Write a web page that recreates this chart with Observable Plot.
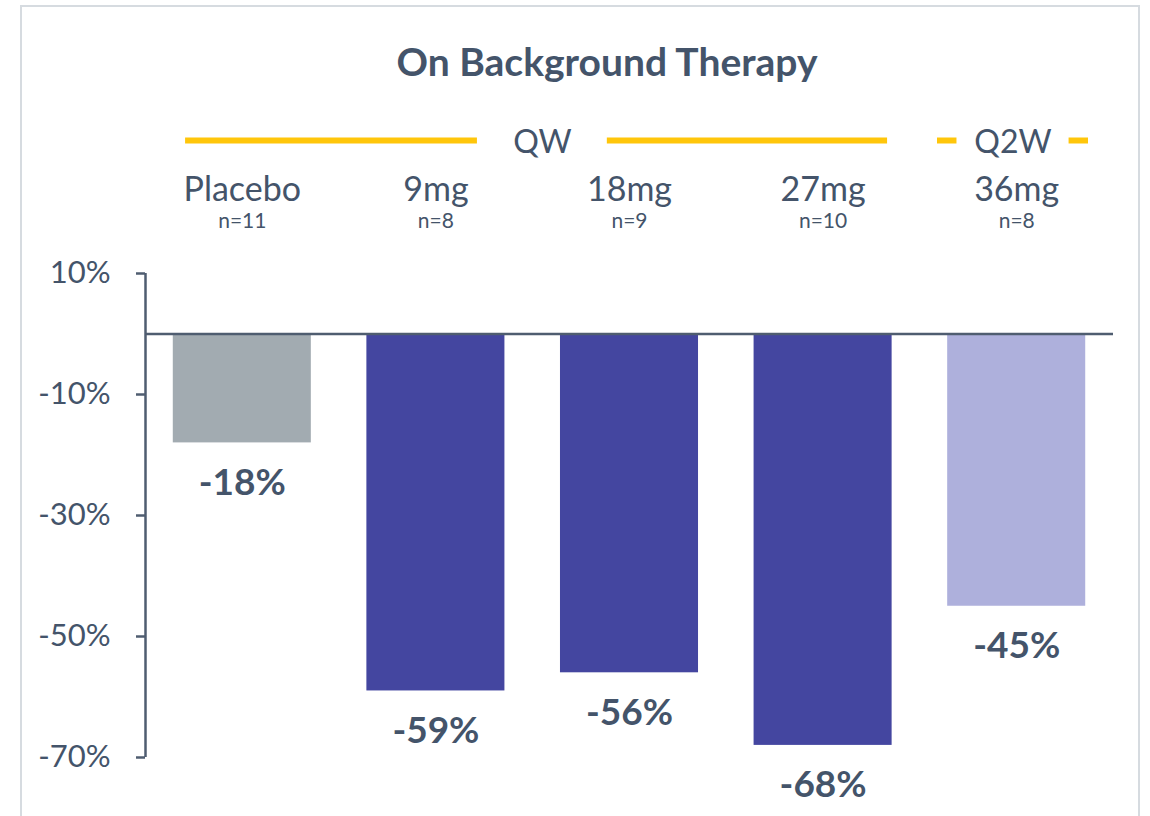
<!DOCTYPE html>
<html>
<head>
<meta charset="utf-8">
<script src="https://cdn.jsdelivr.net/npm/d3@7"></script>
<script src="https://cdn.jsdelivr.net/npm/@observablehq/plot@0.6"></script>
<style>
  html, body { margin: 0; padding: 0; background: #fff; }
  body { width: 1150px; height: 816px; position: relative; overflow: hidden; font-family: Lato, "Open Sans", sans-serif; }
  #frame { position: absolute; left: 20px; top: 5px; width: 1120px; height: 830px; border: 2px solid #d6dbe0; box-sizing: border-box; }
  #title { position: absolute; left: 0; width: 1214px; top: 38px; text-align: center; font-size: 39px; font-weight: 700; color: #44546a; line-height: 46px; }
  #chart { position: absolute; left: 0; top: 100px; }
</style>
</head>
<body>
<div id="frame"></div>
<div id="title">On Background Therapy</div>
<div id="chart"></div>
<script>
// Mean change from baseline by dose arm
const categories = ["Placebo", "9mg", "18mg", "27mg", "36mg"];
const sampleSizes = [11, 8, 9, 10, 8];
const changes = [-18, -59, -56, -68, -45];
const regimens = ["Placebo", "QW", "QW", "QW", "Q2W"];
const yTicks = [10, -10, -30, -50, -70];

// Dosing-frequency headers spanning the arms
const groupLabels = ["QW", "Q2W"];
const groupFirst = ["Placebo", "36mg"];
const groupLast = ["27mg", "36mg"];

const ink = "#44546a";
const axisInk = "#4f5d70";
const gold = "#ffc60b";

const rows = categories.map((c, i) => ({
  category: c, index: i, n: sampleSizes[i], value: changes[i], regimen: regimens[i]
}));

// header line layout: [left inset, right inset, gap width] in band units
const headerLayout = { QW: [0.207, 0.167, 0.671], Q2W: [0.091, 0.129, 0.579] };
const headers = groupLabels.map((label, k) => {
  const [l, r, gap] = headerLayout[label];
  const x1 = categories.indexOf(groupFirst[k]) + l;
  const x2 = categories.indexOf(groupLast[k]) + 1 - r;
  const mid = (x1 + x2) / 2 + (label === "QW" ? 0.03 : 0);
  return { label, x1, x2, mid, gap };
});
const headerSegments = headers.flatMap(h => [
  { x1: h.x1, x2: h.mid - h.gap / 2 },
  { x1: h.mid + h.gap / 2, x2: h.x2 }
]);

const pad = 0.1435;
const yTop = d3.max(yTicks);
const yBottom = d3.min(yTicks);

const chart = Plot.plot({
  width: 1150,
  height: 716,
  marginTop: 173,
  marginBottom: 59,
  marginLeft: 145,
  marginRight: 37,
  style: { fontFamily: "Lato, 'Open Sans', sans-serif", color: ink, background: "transparent", overflow: "visible" },
  x: { type: "linear", domain: [0, categories.length], axis: null },
  y: { domain: [yBottom, yTop], axis: null },
  color: { domain: ["Placebo", "QW", "Q2W"], range: ["#a2abb1", "#4446a0", "#aeb0dc"] },
  marks: [
    Plot.rectY(rows, {
      x1: d => d.index + pad, x2: d => d.index + 1 - pad,
      y1: 0, y2: "value", fill: "regimen"
    }),
    Plot.ruleY([0], { x1: 0, x2: categories.length, stroke: axisInk, strokeWidth: 2.5 }),
    Plot.ruleX([0], { y1: yBottom, y2: yTop, stroke: axisInk, strokeWidth: 2.5 }),
    Plot.axisY({
      ticks: yTicks, tickSize: 9, tickPadding: 26, label: null,
      tickFormat: d => `${d}%`, fontSize: 31, stroke: axisInk, strokeWidth: 2.5, fill: ink
    }),
    Plot.text(rows, {
      x: d => d.index + 0.5, y: "value", dy: 40, text: d => `${d.value}%`,
      fontSize: 37, fontWeight: 700, fill: ink, lineAnchor: "middle"
    }),
    // category and sample-size labels above the plot
    Plot.text(rows, {
      x: d => d.index + 0.5, frameAnchor: "top", dy: -83, text: "category",
      fontSize: 34, fill: ink, lineAnchor: "middle"
    }),
    Plot.text(rows, {
      x: d => d.index + 0.5, frameAnchor: "top", dy: -52, text: d => `n=${d.n}`,
      fontSize: 21, fill: ink, lineAnchor: "middle"
    }),
    // dosing-frequency headers
    Plot.ruleY(headerSegments, {
      x1: "x1", x2: "x2", y: () => yTop, dy: -133, stroke: gold, strokeWidth: 6
    }),
    Plot.text(headers, {
      x: "mid", frameAnchor: "top", dy: -131, text: "label",
      fontSize: 32, fill: ink, lineAnchor: "middle"
    })
  ]
});

document.getElementById("chart").appendChild(chart);
</script>
</body>
</html>
